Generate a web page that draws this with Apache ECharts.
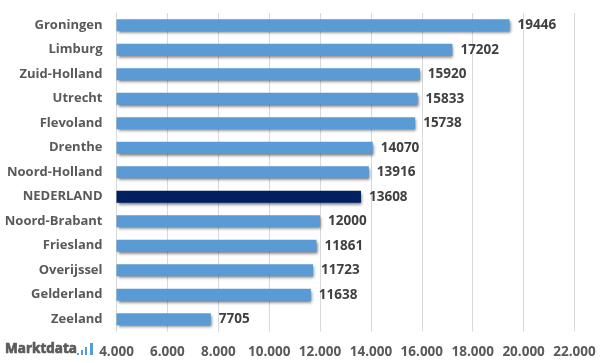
<!DOCTYPE html>
<html><head><meta charset="utf-8">
<style>html,body{margin:0;padding:0;background:#fff}#c{width:605px;height:363px}</style>
<script src="https://cdn.jsdelivr.net/npm/echarts@6/dist/echarts.min.js"></script>
</head><body><div id="c"></div>
<script>
const categories = ["Groningen","Limburg","Zuid-Holland","Utrecht","Flevoland","Drenthe","Noord-Holland","NEDERLAND","Noord-Brabant","Friesland","Overijssel","Gelderland","Zeeland"];
const values = [19446,17202,15920,15833,15738,14070,13916,13608,12000,11861,11723,11638,7705];
const highlight = "NEDERLAND";
const axisMin = 4000, axisMax = 22000, axisStep = 2000;
const font = "'Open Sans', sans-serif";
const chart = echarts.init(document.getElementById('c'), null, {renderer:'canvas'});
chart.setOption({
  animation:false,
  backgroundColor:'#fff',
  grid:{left:116.5,right:30.5,top:13,bottom:31.5,containLabel:false},
  xAxis:{type:'value',min:axisMin,max:axisMax,interval:axisStep,
    axisLine:{show:false},axisTick:{show:false},
    splitLine:{show:true,lineStyle:{color:'#d9d9d9',width:1}},
    axisLabel:{margin:14,color:'#595959',fontFamily:font,fontWeight:'bold',fontSize:13.5,
      formatter:v=>String(v).replace(/\B(?=(\d{3})+$)/g,'.'),
      hideOverlap:false,showMinLabel:true,showMaxLabel:true}},
  yAxis:{type:'category',inverse:true,data:categories,
    axisLine:{show:true,lineStyle:{color:'#d9d9d9',width:1}},axisTick:{show:false},
    axisLabel:{margin:14,color:'#595959',fontFamily:font,fontWeight:'bold',fontSize:13,interval:0}},
  series:[{type:'bar',barWidth:12,
    data:values.map((v,i)=>({value:v,itemStyle:{color:categories[i]===highlight?'#002060':'#5b9bd5'}})),
    itemStyle:{shadowColor:'rgba(0,0,0,0.55)',shadowBlur:3,shadowOffsetX:1,shadowOffsetY:2},
    label:{show:true,position:'right',distance:8,color:'#404040',fontFamily:font,fontWeight:'bold',fontSize:13.5}}],
  graphic:[
    {type:'text',x:5,y:342,style:{text:'Marktdata',fill:'#595959',stroke:'#595959',lineWidth:0.7,fontFamily:font,fontWeight:'bold',fontSize:13.5}},
    {type:'rect',shape:{x:77,y:353,width:2,height:2},style:{fill:'#5b9bd5'}},
    {type:'rect',shape:{x:81,y:350,width:2,height:5},style:{fill:'#5b9bd5'}},
    {type:'rect',shape:{x:85,y:347,width:2,height:8},style:{fill:'#5b9bd5'}},
    {type:'rect',shape:{x:90,y:343,width:3,height:12},style:{fill:'#5b9bd5'}}
  ]
});
</script></body></html>
